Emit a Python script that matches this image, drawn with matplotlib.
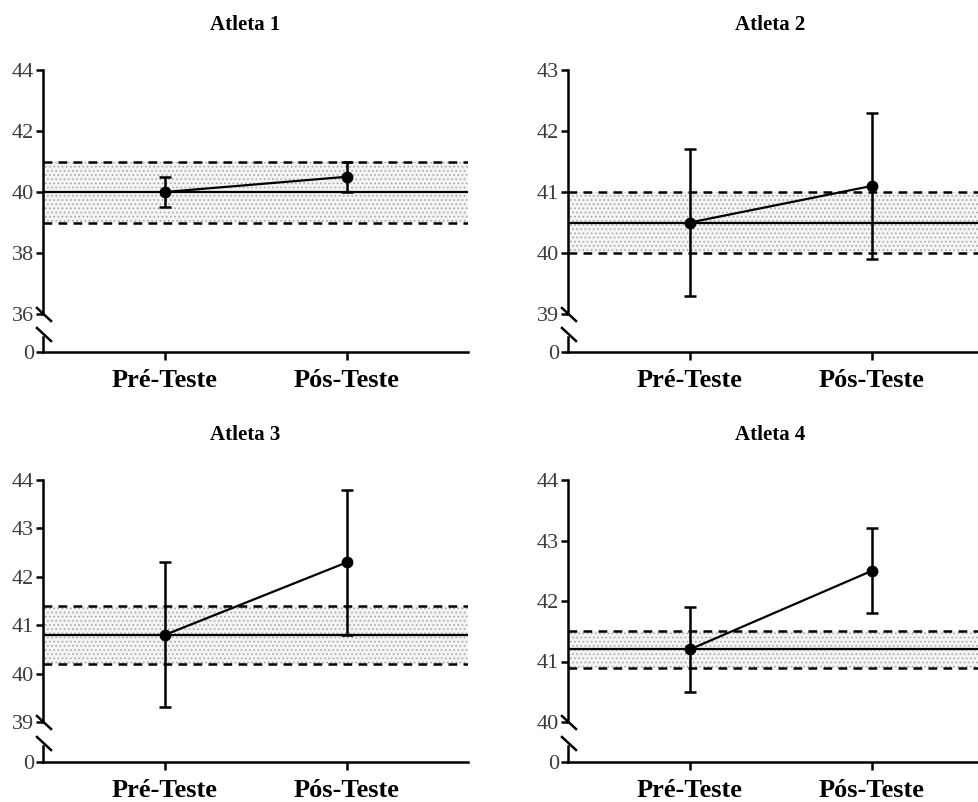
import numpy as np
import matplotlib.pyplot as plt
from matplotlib.lines import Line2D

plt.rcParams['font.family'] = ['Liberation Serif', 'DejaVu Serif']
plt.rcParams['hatch.linewidth'] = 0.7

# dados
atletas = ['Atleta 1', 'Atleta 2', 'Atleta 3', 'Atleta 4']
momentos = ['Pré-Teste', 'Pós-Teste']
medias = [[40.0, 40.5], [40.5, 41.1], [40.8, 42.3], [41.2, 42.5]]
erros = [[0.5, 0.5], [1.2, 1.2], [1.5, 1.5], [0.7, 0.7]]
ref_media = [40.0, 40.5, 40.8, 41.2]
ref_inf = [39.0, 40.0, 40.2, 40.9]
ref_sup = [41.0, 41.0, 41.4, 41.5]
y_ticks = [[36, 38, 40, 42, 44], [39, 40, 41, 42, 43],
           [39, 40, 41, 42, 43, 44], [40, 41, 42, 43, 44]]

W, H = 979, 802
fig = plt.figure(figsize=(W / 100, H / 100), dpi=100)

# posições dos painéis em pixels: esquerda, direita, topo, base superior, zero
paineis = [(43, 468, 70, 314, 352), (568, 993, 70, 314, 352),
           (43, 468, 480, 722, 762), (568, 993, 480, 722, 762)]

def eixo_px(esq, topo, dir, base):
    return fig.add_axes([esq / W, 1 - base / H, (dir - esq) / W, (base - topo) / H])

def linha_px(x0, y0, x1, y1):
    fig.add_artist(Line2D([x0 / W, x1 / W], [1 - y0 / H, 1 - y1 / H],
                          transform=fig.transFigure, color='black', lw=1.8))

lw_eixo = 1.8
cor_tick = '#3c3c3c'
x = np.arange(len(momentos))
xlim = (-0.67, 1.665)

for i, (esq, dir, topo, base, zero) in enumerate(paineis):
    meio = (base + zero) / 2 + 1
    ax = eixo_px(esq, topo, dir, base)
    ax_b = eixo_px(esq, meio + 3, dir, zero)

    # faixa de referência
    ax.axhspan(ref_inf[i], ref_sup[i], facecolor='#f4f4f4', edgecolor='#a8a8a8',
               hatch='....', lw=0, zorder=1)
    ax.axhline(ref_inf[i], color='black', lw=1.8, ls=(0, (3.5, 2.5)), zorder=2)
    ax.axhline(ref_sup[i], color='black', lw=1.8, ls=(0, (3.5, 2.5)), zorder=2)
    ax.axhline(ref_media[i], color='black', lw=1.6, zorder=2)

    ax.errorbar(x, medias[i], yerr=erros[i], color='black', lw=1.6,
                marker='o', ms=7.5, capsize=4.5, capthick=1.8, elinewidth=1.8,
                zorder=4, clip_on=False)

    ax.set_xlim(*xlim)
    ax.set_ylim(y_ticks[i][0], y_ticks[i][-1])
    ax.set_yticks(y_ticks[i])
    ax.set_xticks([])
    for s in ['top', 'right', 'bottom']:
        ax.spines[s].set_visible(False)
    ax.spines['left'].set_linewidth(lw_eixo)
    ax.tick_params(axis='y', length=5, width=lw_eixo, labelsize=16,
                   labelcolor=cor_tick, pad=1.5)
    ax.set_title(atletas[i], fontsize=15, fontweight='bold', pad=29,
                 x=0.5 - 10 / (dir - esq))

    # eixo inferior com o zero
    ax_b.set_xlim(*xlim)
    ax_b.set_ylim(0, 1)
    ax_b.set_yticks([0])
    ax_b.set_xticks(x)
    ax_b.set_xticklabels(momentos, fontsize=19, fontweight='bold')
    for s in ['top', 'right']:
        ax_b.spines[s].set_visible(False)
    ax_b.spines['left'].set_linewidth(lw_eixo)
    ax_b.spines['bottom'].set_linewidth(lw_eixo)
    ax_b.tick_params(axis='y', length=5, width=lw_eixo, labelsize=16,
                     labelcolor=cor_tick, pad=1.5)
    ax_b.tick_params(axis='x', length=6, width=lw_eixo, pad=6.5)
    ax_b.patch.set_alpha(0)

    # marcas de quebra do eixo
    linha_px(esq - 6, base - 6, esq + 8, base + 7)
    linha_px(esq - 6, meio - 6, esq + 8, meio + 7)

fig.savefig('out.png', dpi=100)
